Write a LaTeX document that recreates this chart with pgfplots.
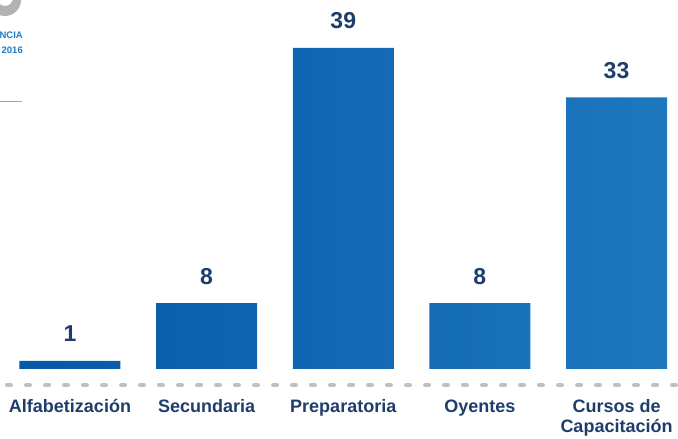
\documentclass[border=0pt]{standalone}
\usepackage{pgfplots}
\pgfplotsset{compat=1.18}
\usepackage{fontspec}
\setmainfont{Liberation Sans}
\definecolor{navy}{RGB}{31,61,107}
\definecolor{bardark}{RGB}{6,88,168}
\definecolor{barlight}{RGB}{30,120,190}
\definecolor{logoblue}{RGB}{30,123,196}
\definecolor{dashgray}{RGB}{192,192,192}
\begin{document}
\begin{tikzpicture}
% cropped logo fragments at top left
\begin{scope}
\clip (0pt,0pt) rectangle (678pt,439pt);
\fill[gray!60!white, even odd rule] (5pt,439pt) circle (16pt) (5pt,441pt) circle (8pt);
\end{scope}
\node[anchor=east, inner sep=0pt, text=logoblue, font=\bfseries\fontsize{9.5}{10}\selectfont] at (23pt,404pt) {NCIA};
\node[anchor=east, inner sep=0pt, text=logoblue, font=\bfseries\fontsize{9.5}{10}\selectfont] at (23pt,389pt) {2016};
\draw[gray!70, line width=1pt] (0pt,337pt) -- (22pt,337pt);
\begin{axis}[
  at={(7pt,54pt)}, anchor=south west,
  scale only axis, width=671pt, height=337pt,
  xmin=-0.461, xmax=4.45, ymin=-1.944, ymax=39,
  clip=false,
  axis x line*=bottom, axis y line=none,
  x axis line style={-, draw=dashgray, line width=4pt, line cap=round, dash pattern=on 4pt off 15pt},
  xtick={0,1,2,3,4},
  xticklabels={Alfabetización, Secundaria, Preparatoria, Oyentes, {\begin{tabular}[t]{@{}c@{}}Cursos de\\Capacitación\end{tabular}}},
  major tick length=0pt,
  xticklabel style={font=\bfseries\fontsize{18}{20}\selectfont, text=navy, anchor=base, yshift=-27.7pt, inner sep=0pt},
  /pgf/number format/assume math mode=true,
  ybar, bar width=101pt,
  nodes near coords,
  every node near coord/.append style={font=\bfseries\fontsize{23}{24}\selectfont, text=navy, anchor=base, yshift=19pt},
]
\addplot[draw=none, left color=bardark, right color=barlight] coordinates {(0,1) (1,8) (2,39) (3,8) (4,33)};
\end{axis}
\pgfresetboundingbox
\useasboundingbox (0pt,0pt) rectangle (678pt,439pt);
\end{tikzpicture}
\end{document}
